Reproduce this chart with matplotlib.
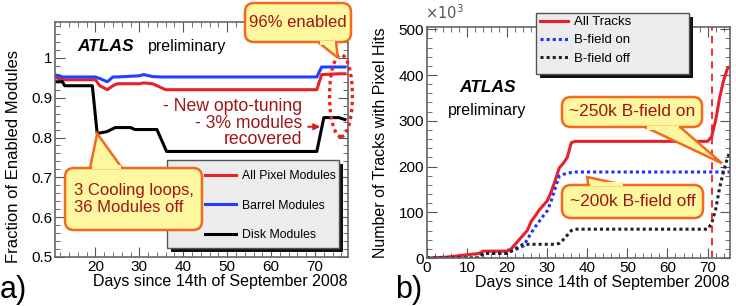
import numpy as np
import matplotlib
matplotlib.use('Agg')
import matplotlib.pyplot as plt
from matplotlib.patches import Ellipse, FancyBboxPatch, Polygon, Rectangle
from matplotlib.lines import Line2D
from matplotlib.transforms import IdentityTransform
from matplotlib.ticker import MultipleLocator

plt.rcParams['font.family'] = ['Liberation Sans', 'DejaVu Sans']

# ---- panel a: fraction of enabled modules
days_a = [11, 12.5, 20, 21, 22.7, 24, 25, 30, 31, 33, 35, 36, 70.4, 71.5, 75.5, 76.8]
all_pix = [0.95, 0.945, 0.945, 0.93, 0.92, 0.93, 0.935, 0.935, 0.937, 0.935, 0.925, 0.92,
           0.92, 0.958, 0.96, 0.96]
barrel = [0.957, 0.952, 0.952, 0.948, 0.94, 0.952, 0.952, 0.955, 0.958, 0.953, 0.952, 0.952,
          0.952, 0.977, 0.977, 0.977]
days_disk = [11, 12.5, 13, 19.3, 20.4, 22.7, 24.5, 28, 29, 34, 36.2, 70.4, 72, 75.4, 76.8]
disk = [0.94, 0.94, 0.93, 0.93, 0.81, 0.815, 0.825, 0.825, 0.82, 0.82, 0.765, 0.765, 0.85, 0.85, 0.845]

# ---- panel b: number of tracks with pixel hits (x10^3)
days_b = [0, 5, 8, 13, 14, 20, 21, 22, 23, 24, 25, 26, 27, 28, 29, 30, 31, 32, 33, 34, 35, 36, 37,
          70, 71, 72, 73, 74, 75, 76]
all_trk = [0, 2, 5, 10, 15, 15, 20, 30, 40, 50, 60, 80, 92, 105, 115, 125, 145, 170, 197, 207, 220, 252, 255,
           255, 265, 300, 350, 388, 415, 420]
bon = [0, 0, 0, 0, 10, 10, 15, 18, 22, 26, 40, 55, 68, 80, 92, 103, 125, 153, 179, 183, 185, 187, 188,
       188, 188, 188, 188, 188, 188, 188]
boff = [0, 0, 0, 0, 10, 10, 15, 20, 25, 30, 30, 30, 30, 30, 30, 30, 30, 30, 32, 40, 50, 60, 63,
        63, 75, 105, 153, 190, 220, 240]

H = 306
dark_red = '#a01515'
box_fc = '#fdf7a0'
box_ec = '#f36a1c'

fig = plt.figure(figsize=(7.36, 3.06), dpi=100)
axa = fig.add_axes([55 / 736, 49 / 306, 293 / 736, 235 / 306])
axb = fig.add_axes([427 / 736, 48 / 306, 303 / 736, 231 / 306])


def root_style(ax):
    ax.tick_params(which='both', direction='in', top=True, right=True, labelsize=11, pad=2)
    ax.tick_params(which='major', length=7, width=0.8, color='#555555')
    ax.tick_params(which='minor', length=3.5, width=0.6, color='#555555')
    for s in ax.spines.values():
        s.set_color('#666666')
        s.set_linewidth(1.2)


def callout(text, box, base, tip, fs=12, ha='center'):
    # box / base given in pixels from the top-left corner, tip in display coords
    x0, y0, x1, y1 = box
    (bx1, by), (bx2, _) = base
    tail = Polygon([(bx1, H - by), tip, (bx2, H - by)], closed=True, fc=box_fc, ec=box_ec, lw=1.8,
                   transform=IdentityTransform(), zorder=10)
    fig.add_artist(tail)
    fig.add_artist(FancyBboxPatch((x0, H - y1), x1 - x0, y1 - y0, boxstyle='round,pad=0,rounding_size=9',
                                  fc=box_fc, ec=box_ec, lw=1.8, transform=IdentityTransform(), zorder=11))
    inward = 3 if abs(by - y0) < abs(by - y1) else -3
    cover = Polygon([(bx1 + 1.5, H - by + inward), (bx2 - 1.5, H - by + inward),
                     (bx2 - 1.5, H - by - inward * 0.4), (bx1 + 1.5, H - by - inward * 0.4)],
                    closed=True, fc=box_fc, ec='none', transform=IdentityTransform(), zorder=12)
    fig.add_artist(cover)
    tx = (x0 + x1) / 2 if ha == 'center' else x0 + 9
    fig.text(tx / 736, 1 - (y0 + y1) / 2 / H, text, ha=ha, va='center', fontsize=fs, color=dark_red,
             linespacing=1.15, zorder=13)


def legend_box(x0, y0, x1, y1):
    fig.add_artist(Rectangle((x0 + 4, H - y1 - 4), x1 - x0, y1 - y0, fc='#111111', ec='none',
                             transform=IdentityTransform(), zorder=2))
    fig.add_artist(Rectangle((x0, H - y1), x1 - x0, y1 - y0, fc='#ececec', ec='#555555', lw=1,
                             transform=IdentityTransform(), zorder=3))


# panel a
axa.plot(days_a, all_pix, color='#e8202a', lw=2.2)
axa.plot(days_a, barrel, color='#2040ff', lw=2.2)
axa.plot(days_disk, disk, color='black', lw=2.2)
axa.set_xlim(10.8, 77.5)
axa.set_ylim(0.5, 1.09)
axa.set_yticks([0.5, 0.6, 0.7, 0.8, 0.9, 1.0])
axa.set_yticklabels(['0.5', '0.6', '0.7', '0.8', '0.9', '1'])
axa.xaxis.set_major_locator(MultipleLocator(10))
axa.xaxis.set_minor_locator(MultipleLocator(2))
axa.yaxis.set_minor_locator(MultipleLocator(0.02))
root_style(axa)
axa.set_xlabel('Days since 14th of September 2008', fontsize=11.5, loc='right', labelpad=0)
axa.set_ylabel('Fraction of Enabled Modules', fontsize=12, loc='top', labelpad=3)
axa.yaxis.set_label_coords(-0.115, 0.88, transform=axa.transAxes)
axa.text(0.075, 0.894, 'ATLAS', transform=axa.transAxes, fontsize=12.5, fontweight='bold', style='italic',
         va='center')
axa.text(0.317, 0.894, 'preliminary', transform=axa.transAxes, fontsize=11.5, va='center')

legend_box(167, 160, 339, 248)
fig.legend([Line2D([], [], color=c, lw=2.2) for c in ['#e8202a', '#2040ff', 'black']],
           ['All Pixel Modules', 'Barrel Modules', 'Disk Modules'],
           loc='upper left', bbox_to_anchor=(205 / 736, 1 - 170 / H), fontsize=8.8, frameon=False,
           handlelength=2.5, labelspacing=1.45, borderpad=0, borderaxespad=0, handletextpad=0.55).set_zorder(5)

axa.add_patch(Ellipse((75.9, 0.905), 5.2, 0.206, fill=False, ec='#e82020', lw=2.4, ls=(0, (1, 1.1)),
                      clip_on=False, zorder=6))
axa.text(67.0, 0.836, '- New opto-tuning\n- 3% modules\nrecovered', ha='right', va='center',
         fontsize=12.7, color=dark_red, linespacing=0.95, multialignment='right')
axa.annotate('', xy=(71.2, 0.827), xytext=(68.4, 0.827),
             arrowprops=dict(arrowstyle='-|>', color='#d02020', lw=1.4, mutation_scale=9, shrinkA=0, shrinkB=0))

# panel b
axb.plot(days_b, all_trk, color='#e8202a', lw=2.2)
axb.plot(days_b, bon, color='#2030ff', lw=2.2, ls=(0, (1, 1)))
axb.plot(days_b, boff, color='#222222', lw=2.2, ls=(0, (1, 1)))
axb.axvline(71.2, color='#ee2020', lw=1.3, ls=(0, (4, 3)))
axb.set_xlim(0, 75.6)
axb.set_ylim(0, 505)
axb.xaxis.set_major_locator(MultipleLocator(10))
axb.xaxis.set_minor_locator(MultipleLocator(2))
axb.yaxis.set_major_locator(MultipleLocator(100))
axb.yaxis.set_minor_locator(MultipleLocator(20))
root_style(axb)
axb.set_xlabel('Days since 14th of September 2008', fontsize=11.5, loc='right', labelpad=0)
axb.set_ylabel('Number of Tracks with Pixel Hits', fontsize=11.5, loc='top', labelpad=3)
axb.yaxis.set_label_coords(-0.128, 1.0, transform=axb.transAxes)
fig.text(425 / 736, 1 - 13 / H, r'$\times10^3$', fontsize=10.5, color='#555555', va='center')
axb.text(0.20, 0.74, 'ATLAS', transform=axb.transAxes, fontsize=12.5, fontweight='bold', style='italic',
         ha='center', va='center')
axb.text(0.20, 0.64, 'preliminary', transform=axb.transAxes, fontsize=11.5, ha='center', va='center')

legend_box(536, 13, 689, 74)
fig.legend([Line2D([], [], color='#e8202a', lw=2.2),
            Line2D([], [], color='#2030ff', lw=2.2, ls=(0, (1, 1))),
            Line2D([], [], color='#222222', lw=2.2, ls=(0, (1, 1)))],
           ['All Tracks', 'B-field on', 'B-field off'],
           loc='upper left', bbox_to_anchor=(540 / 736, 1 - 16 / H), fontsize=9.5, frameon=False,
           handlelength=2.1, labelspacing=0.45, borderpad=0, borderaxespad=0, handletextpad=0.45).set_zorder(5)

# callouts
callout('96% enabled', (245, 3, 351, 42), ((318, 42), (336, 42)),
        axa.transData.transform((75.2, 1.0)), fs=12)
callout('3 Cooling loops,\n36 Modules off', (65, 168, 202, 230), ((90, 168), (122, 168)),
        axa.transData.transform((20.4, 0.81)), fs=12, ha='left')
callout('~250k B-field on', (562, 97, 702, 127), ((645, 127), (680, 127)),
        axb.transData.transform((73.6, 207)), fs=12.5)
callout('~200k B-field off', (562, 185, 703, 218), ((588, 185), (624, 185)),
        axb.transData.transform((40, 177)), fs=12.5)

fig.text(0.0, 8 / H, 'a)', fontsize=22, va='baseline')
fig.text(395 / 736, 8 / H, 'b)', fontsize=22, va='baseline')

fig.savefig('out.png', dpi=100)
